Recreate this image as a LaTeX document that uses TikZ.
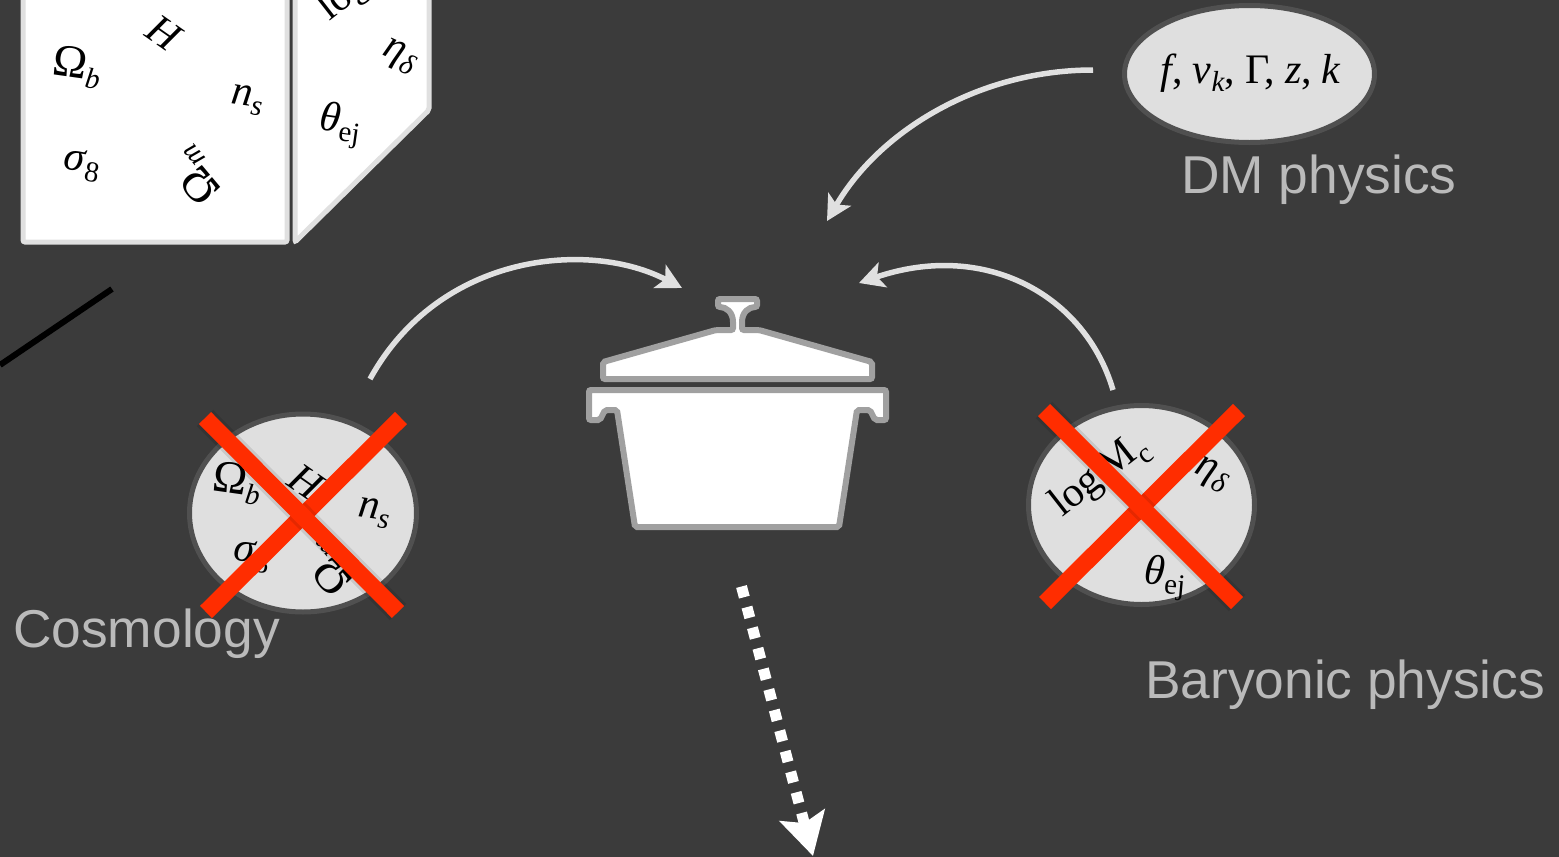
\documentclass[tikz,border=0pt]{standalone}
\usepackage{fontspec}
\setmainfont{Liberation Serif}
\newfontfamily\namefont{Liberation Sans}
\usetikzlibrary{arrows.meta,shapes.geometric}
\definecolor{slide}{HTML}{3B3B3B}
\definecolor{ellfill}{HTML}{DFDFDF}
\definecolor{ellrim}{HTML}{505050}
\definecolor{cardrim}{HTML}{E0E0E0}
\definecolor{potrim}{HTML}{A0A0A0}
\definecolor{crossred}{HTML}{FF2D00}
\definecolor{namegray}{HTML}{BABABA}
\newcommand{\lowsub}[2][-8pt]{\raisebox{#1}{\fontsize{29}{29}\selectfont #2}}
\newcommand{\itsub}[2]{\textit{#1}\lowsub{\textit{#2}}}
\newcommand{\omegab}{{\fontsize{46}{46}\selectfont Ω}\lowsub{\textit{b}}}
\newcommand{\omegam}{{\fontsize{46}{46}\selectfont Ω}\lowsub{\textit{m}}}
\newcommand{\sigmaeight}{\textit{σ}\lowsub{8}}
\newcommand{\thetaej}{\textit{θ}\lowsub{ej}}
\newcommand{\logmc}{log\,M\lowsub[-10pt]{c}}
\tikzset{
  param/.style={font=\fontsize{42}{42}\selectfont,inner sep=0pt},
  physname/.style={font=\namefont\fontsize{53.3}{53.3}\selectfont,text=namegray,inner sep=0pt},
  parell/.style={ellipse,draw=ellrim,fill=ellfill,line width=5pt,inner sep=0pt},
  card/.style={draw=cardrim,fill=white,line width=5pt,rounded corners=2pt},
  potpart/.style={draw=potrim,fill=white,line width=6pt,rounded corners=2pt},
  crossbar/.style={draw=crossred,line width=17pt},
  crossshade/.style={draw=black,opacity=.1,line width=23pt},
  flow/.style={draw=cardrim,line width=5.5pt,-{Stealth[length=25pt,width=26pt,inset=6pt]}},
}
\begin{document}
\begin{tikzpicture}[x=1pt,y=-1pt]
\fill[slide] (0,0) rectangle (1559,857);
\clip (0,0) rectangle (1559,857);
% cards
\draw[card] (23,-10)--(23,242)--(287,242)--(287,-10);
\draw[card] (295,-10)--(295,242)--(429,110)--(429,-10);
\node[param,rotate=-35] (cardh) at (165,33) {\textit{H}};
\node[param,rotate=-8] (cardob) at (77,67) {\omegab};
\node[param,rotate=-8] (cardns) at (247,100) {\itsub{n}{s}};
\node[param,rotate=-10] (cards) at (82,165) {\sigmaeight};
\node[param,rotate=130] (cardom) at (196,176) {\omegam};
\node[param,rotate=-25] (cardeta) at (400,57) {\itsub{η}{δ}};
\node[param,rotate=-8] (cardth) at (340,125) {\thetaej};
\node[param,rotate=38] (cardm) at (367,-20) {\logmc};
\draw[line width=6pt] (0,365)--(112,289);
% cosmology
\node[parell,minimum width=227pt,minimum height=198pt] (cosmo) at (303,513) {};
\node[param,rotate=-8] (cosob) at (237,483) {\omegab};
\node[param,rotate=-35] (cosh) at (307,482) {\textit{H}};
\node[param,rotate=-8] (cosns) at (374,513) {\itsub{n}{s}};
\node[param,rotate=-10] (coss) at (252,556) {\sigmaeight};
\node[param,rotate=130] (cosom) at (328,567) {\omegam};
\draw[crossbar] (206,612)--(401,418);
\draw[crossshade] (205,418)--(398,612);
\draw[crossbar] (205,418)--(398,612);
\node[physname,anchor=base west] (cosname) at (13,647) {Cosmology};
% baryons
\node[parell,minimum width=226pt,minimum height=199pt] (bary) at (1141.5,505) {};
\node[param,rotate=38] (barm) at (1100,476) {\logmc};
\node[param,rotate=-25] (bareta) at (1212,475) {\itsub{η}{δ}};
\node[param,rotate=-5] (barth) at (1165,578) {\thetaej};
\draw[crossbar] (1045,603)--(1239,410);
\draw[crossshade] (1044,410)--(1237,603);
\draw[crossbar] (1044,410)--(1237,603);
\node[physname,anchor=base west] (baryname) at (1145,698) {Baryonic physics};
% dark matter
\node[parell,minimum width=250pt,minimum height=137pt] (dm) at (1249.5,74) {};
\node[param] (dmpar) at (1251,73) {\textit{f},\hspace{10pt}\itsub{v}{k},\hspace{10pt}Γ,\hspace{10pt}\textit{z},\hspace{10pt}\textit{k}};
\node[physname,anchor=base west] (dmname) at (1181,193) {DM physics};
% pot
\draw[potpart] (603,379)--(603,362)--(716,330)--(733,330)--(733,324)
  .. controls (733,312) and (726,307) .. (718,307)--(718,299)--(757,299)--(757,307)
  .. controls (749,307) and (742,312) .. (742,324)--(742,330)--(759,330)--(872,362)--(872,379)--cycle;
\draw[potpart] (589,390)--(589,420)--(600,420)--(605,410)--(617,410)--(635,527)--(839,527)
  --(857,410)--(870,410)--(875,420)--(886,420)--(886,390)--cycle;
% arrows
\coordinate (dmout) at (1093,70);
\coordinate (dmin) at (827,221);
\coordinate (cosout) at (370,379);
\coordinate (cosin) at (682,288);
\coordinate (barout) at (1113,390);
\coordinate (barin) at (859,283);
\coordinate (potout) at (741.5,586.5);
\coordinate (result) at (813,856);
\draw[flow] (dmout) .. controls (980,70) and (880,130) .. (dmin);
\draw[flow] (cosout) .. controls (440,252) and (590,240) .. (cosin);
\draw[flow] (barout) .. controls (1085,295) and (985,240) .. (barin);
\draw[white,line width=11pt,dash pattern=on 11pt off 10.3pt,-{Stealth[length=42pt,width=46pt,inset=8pt]}] (potout)--(result);
\end{tikzpicture}
\end{document}
